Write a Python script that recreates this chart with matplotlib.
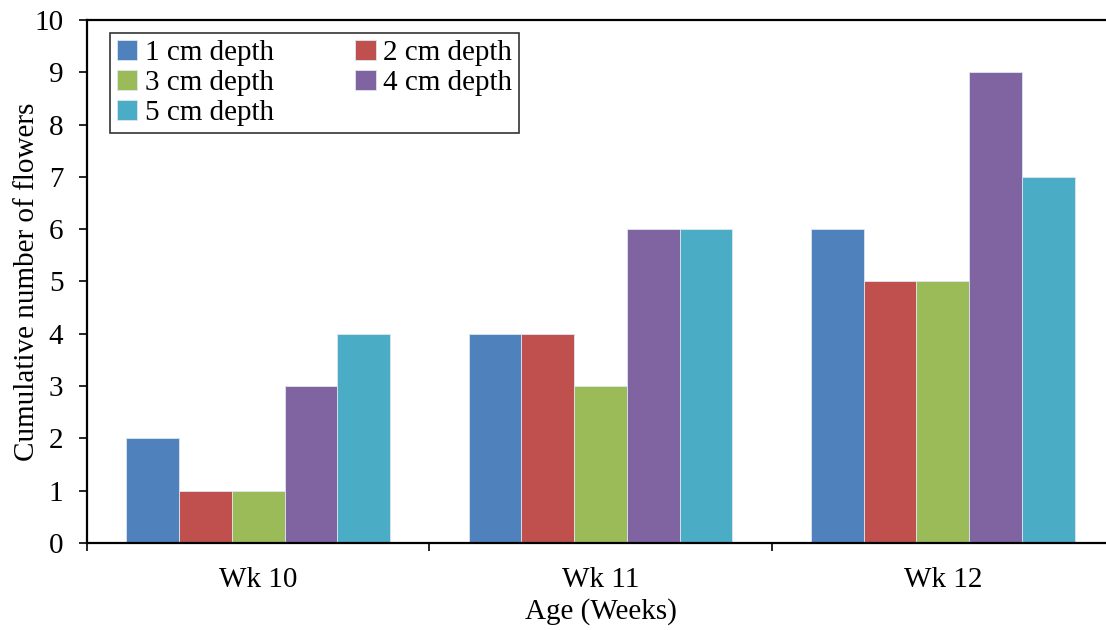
import numpy as np
import matplotlib
matplotlib.use('Agg')
import matplotlib.pyplot as plt

plt.rcParams['font.family'] = ['Liberation Serif', 'DejaVu Serif']

weeks = ["Wk 10", "Wk 11", "Wk 12"]
series = ["1 cm depth", "2 cm depth", "3 cm depth", "4 cm depth", "5 cm depth"]
d1 = [2, 4, 6]
d2 = [1, 4, 5]
d3 = [1, 3, 5]
d4 = [3, 6, 9]
d5 = [4, 6, 7]
colors = ["#4F81BD", "#C0504D", "#9BBB59", "#8064A2", "#4BACC6"]

fs = 21
fig = plt.figure(figsize=(11.06, 6.30), dpi=100)
ax = fig.add_axes([87/1106, 87/630, 1027/1106, 523/630])

x = np.arange(len(weeks))
w = 0.154
bars = []
for i, (vals, name) in enumerate(zip([d1, d2, d3, d4, d5], series)):
    b = ax.bar(x + (i - 2) * w, vals, w, color=colors[i], label=name,
               edgecolor='#dde6f0', linewidth=0.6)
    bars.append(b)

ax.set_xlim(-0.5, 2.5)
ax.set_ylim(0, 10)
ax.set_yticks(range(0, 11))
ax.set_xticks(x)
ax.set_xticklabels(weeks)
ax.set_xticks([-0.5, 0.5, 1.5, 2.5], minor=True)
ax.tick_params(axis='x', which='major', length=0, labelsize=fs, pad=17)
ax.tick_params(axis='x', which='minor', length=6, width=1.2, direction='out')
ax.tick_params(axis='y', length=6, width=1.2, direction='out', labelsize=fs, pad=11)
for s in ax.spines.values():
    s.set_linewidth(1.6)

ax.set_xlabel("Age (Weeks)", fontsize=fs, labelpad=4)
ax.set_ylabel("Cumulative number of flowers", fontsize=fs, labelpad=-4)

# row-wise legend order like the original
order = [0, 2, 4, 1, 3]
leg = ax.legend([bars[k] for k in order], [series[k] for k in order],
                ncol=2, loc='upper left', bbox_to_anchor=(0.022, 0.976),
                fontsize=fs, frameon=True, fancybox=False,
                handlelength=0.7, handleheight=0.7, handletextpad=0.25,
                columnspacing=2.8, labelspacing=0.12, borderpad=0.25,
                borderaxespad=0)
leg.get_frame().set_edgecolor('black')
leg.get_frame().set_linewidth(1.2)

fig.savefig("out.png", dpi=100)
